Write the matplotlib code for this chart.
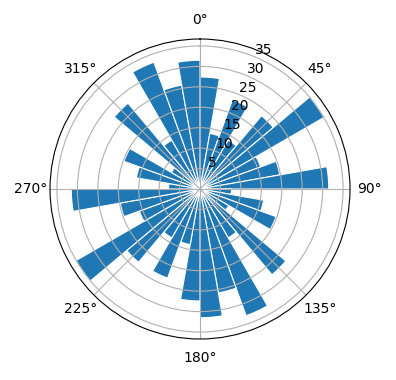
import numpy as np
import matplotlib
matplotlib.use("Agg")
import matplotlib.pyplot as plt

# direção (início de cada setor, graus) e comprimento de cada barra
angles_deg = np.arange(0, 360, 10)
radii = [27.4, 13.8, 23.2, 13.8, 23.4, 35.0, 15.8, 19.8, 31.5,
         7.7, 15.8, 19.8, 8.1, 27.4, 13.8, 33.0, 25.8, 31.5,
         27.4, 13.8, 23.2, 13.8, 23.4, 35.0, 15.8, 19.8, 31.5,
         7.7, 15.8, 19.8, 8.1, 27.4, 13.8, 33.0, 25.8, 31.5]

theta = np.deg2rad(angles_deg)
width = np.deg2rad(10)

fig = plt.figure(figsize=(3.96, 3.8), dpi=100)
ax = fig.add_axes([0.1263, 0.1079, 0.7576, 0.7895], projection="polar")
ax.set_theta_zero_location("N")
ax.set_theta_direction(-1)

ax.bar(theta, radii, width=width, align="edge", color="#1f77b4",
       edgecolor="white", linewidth=0.8)

ax.set_rlim(0, 36.7)
ax.set_rticks([5, 10, 15, 20, 25, 30, 35])

fig.savefig("out.png", dpi=100)
